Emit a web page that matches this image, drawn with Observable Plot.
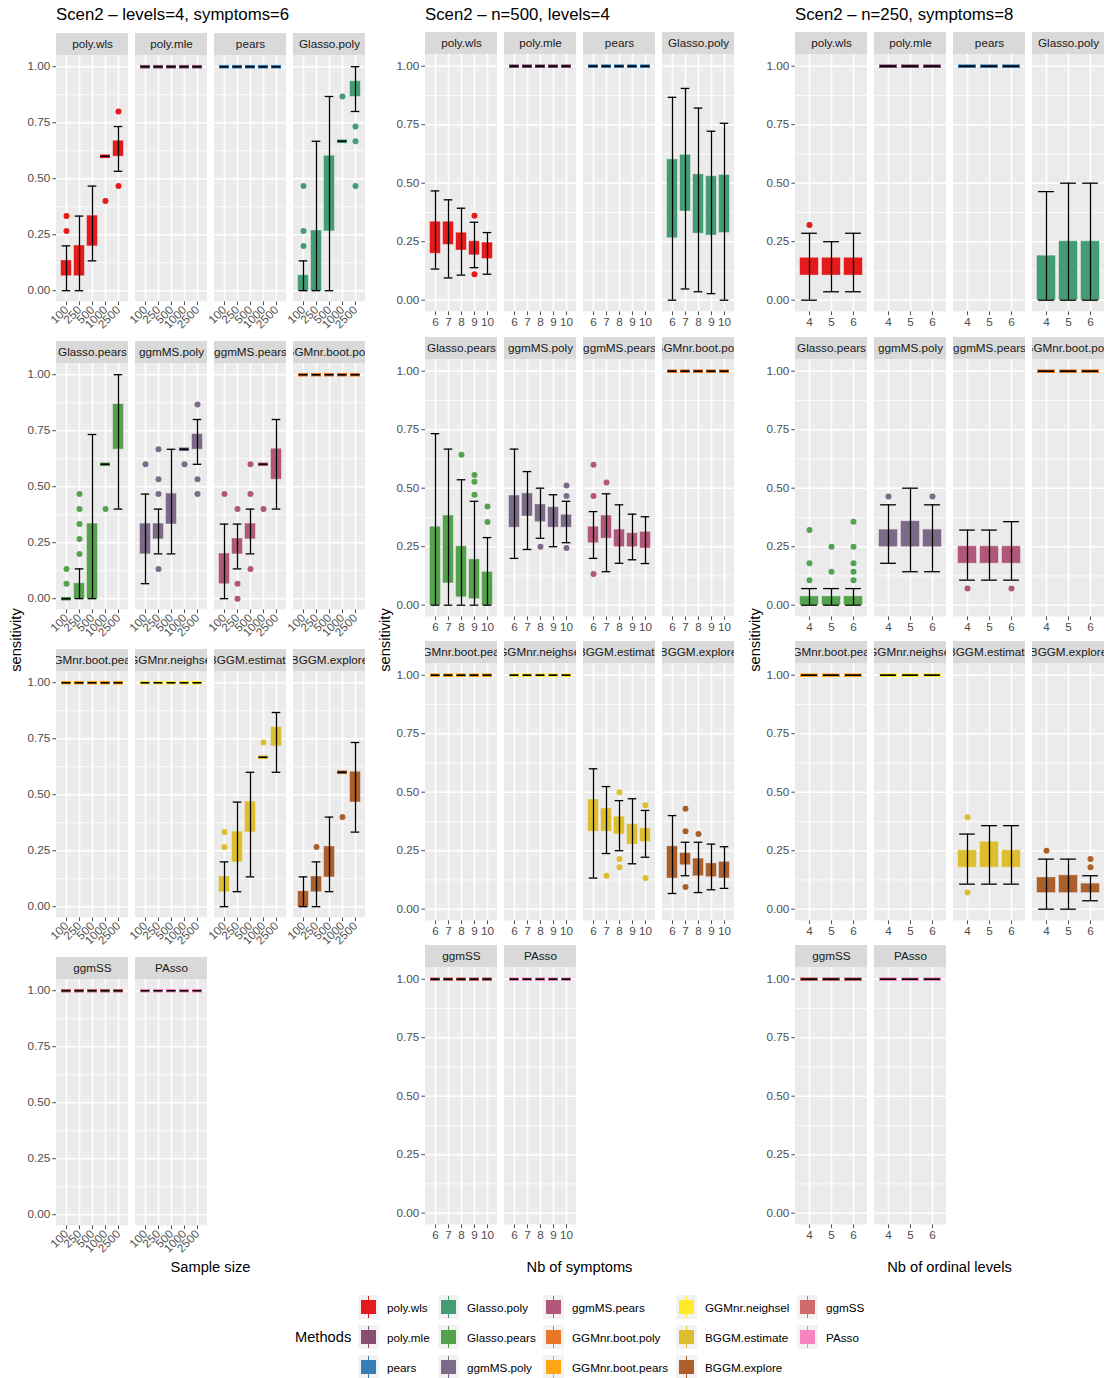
<!DOCTYPE html>
<html>
<head>
<meta charset="utf-8">
<script src="https://cdn.jsdelivr.net/npm/d3@7"></script>
<script src="https://cdn.jsdelivr.net/npm/@observablehq/plot@0.6"></script>
<style>
  html, body { margin: 0; padding: 0; background: #fff; }
  #root { position: relative; width: 1107px; height: 1378px; overflow: hidden;
          font-family: "Liberation Sans", Arial, Helvetica, sans-serif; color: #000; }
  .abs { position: absolute; white-space: nowrap; }
</style>
</head>
<body>
<div id="root"></div>
<script>
// ---------------- DATA ----------------
const methods = ["poly.wls","poly.mle","pears","Glasso.poly","Glasso.pears","ggmMS.poly","ggmMS.pears",
  "GGMnr.boot.poly","GGMnr.boot.pears","GGMnr.neighsel","BGGM.estimate","BGGM.explore","ggmSS","PAsso"];
const methodColors = ["#E41A1C","#874E72","#377EB8","#439C74","#55A24D","#7D6A89","#B0577A",
  "#E8772A","#FFA514","#FFEB29","#DDBE2F","#AB5F2A","#CE6A6B","#F784BF"];

const sampleSizes = ["100","250","500","1000","2500"];
const nbSymptoms = ["6","7","8","9","10"];
const nbLevels = ["4","5","6"];
const yTicks = [0, 0.25, 0.5, 0.75, 1];

// box rows: [method, level, lowerWhisker, q1, q3, upperWhisker]
const boxesSampleSize = [
  ["poly.wls","100",0,0.067,0.133,0.2],["poly.wls","250",0,0.067,0.2,0.333],["poly.wls","500",0.133,0.2,0.333,0.467],
  ["poly.wls","1000",0.6,0.6,0.6,0.6],["poly.wls","2500",0.533,0.6,0.667,0.733],
  ["poly.mle","100",1,1,1,1],["poly.mle","250",1,1,1,1],["poly.mle","500",1,1,1,1],["poly.mle","1000",1,1,1,1],["poly.mle","2500",1,1,1,1],
  ["pears","100",1,1,1,1],["pears","250",1,1,1,1],["pears","500",1,1,1,1],["pears","1000",1,1,1,1],["pears","2500",1,1,1,1],
  ["Glasso.poly","100",0,0,0.067,0.133],["Glasso.poly","250",0,0,0.267,0.667],["Glasso.poly","500",0,0.267,0.6,0.867],
  ["Glasso.poly","1000",0.667,0.667,0.667,0.667],["Glasso.poly","2500",0.8,0.867,0.933,1],
  ["Glasso.pears","100",0,0,0,0],["Glasso.pears","250",0,0,0.067,0.133],["Glasso.pears","500",0,0,0.333,0.733],
  ["Glasso.pears","1000",0.6,0.6,0.6,0.6],["Glasso.pears","2500",0.4,0.667,0.867,1],
  ["ggmMS.poly","100",0.067,0.2,0.333,0.467],["ggmMS.poly","250",0.2,0.267,0.333,0.4],["ggmMS.poly","500",0.2,0.333,0.467,0.667],
  ["ggmMS.poly","1000",0.667,0.667,0.667,0.667],["ggmMS.poly","2500",0.6,0.667,0.733,0.8],
  ["ggmMS.pears","100",0,0.067,0.2,0.333],["ggmMS.pears","250",0.133,0.2,0.267,0.333],["ggmMS.pears","500",0.2,0.267,0.333,0.4],
  ["ggmMS.pears","1000",0.6,0.6,0.6,0.6],["ggmMS.pears","2500",0.4,0.533,0.667,0.8],
  ["GGMnr.boot.poly","100",1,1,1,1],["GGMnr.boot.poly","250",1,1,1,1],["GGMnr.boot.poly","500",1,1,1,1],["GGMnr.boot.poly","1000",1,1,1,1],["GGMnr.boot.poly","2500",1,1,1,1],
  ["GGMnr.boot.pears","100",1,1,1,1],["GGMnr.boot.pears","250",1,1,1,1],["GGMnr.boot.pears","500",1,1,1,1],["GGMnr.boot.pears","1000",1,1,1,1],["GGMnr.boot.pears","2500",1,1,1,1],
  ["GGMnr.neighsel","100",1,1,1,1],["GGMnr.neighsel","250",1,1,1,1],["GGMnr.neighsel","500",1,1,1,1],["GGMnr.neighsel","1000",1,1,1,1],["GGMnr.neighsel","2500",1,1,1,1],
  ["BGGM.estimate","100",0,0.067,0.133,0.2],["BGGM.estimate","250",0.067,0.2,0.333,0.467],["BGGM.estimate","500",0.133,0.333,0.467,0.6],
  ["BGGM.estimate","1000",0.667,0.667,0.667,0.667],["BGGM.estimate","2500",0.6,0.717,0.8,0.867],
  ["BGGM.explore","100",0,0,0.067,0.133],["BGGM.explore","250",0,0.067,0.133,0.2],["BGGM.explore","500",0.067,0.133,0.267,0.4],
  ["BGGM.explore","1000",0.6,0.6,0.6,0.6],["BGGM.explore","2500",0.333,0.467,0.6,0.733],
  ["ggmSS","100",1,1,1,1],["ggmSS","250",1,1,1,1],["ggmSS","500",1,1,1,1],["ggmSS","1000",1,1,1,1],["ggmSS","2500",1,1,1,1],
  ["PAsso","100",1,1,1,1],["PAsso","250",1,1,1,1],["PAsso","500",1,1,1,1],["PAsso","1000",1,1,1,1],["PAsso","2500",1,1,1,1]
];
// outlier rows: [method, level, value]
const outliersSampleSize = [
  ["poly.wls","100",0.267],["poly.wls","100",0.333],["poly.wls","1000",0.4],["poly.wls","2500",0.8],["poly.wls","2500",0.467],
  ["Glasso.poly","100",0.467],["Glasso.poly","100",0.267],["Glasso.poly","100",0.2],["Glasso.poly","1000",0.867],
  ["Glasso.poly","2500",0.733],["Glasso.poly","2500",0.667],["Glasso.poly","2500",0.467],
  ["Glasso.pears","100",0.133],["Glasso.pears","100",0.067],["Glasso.pears","250",0.2],["Glasso.pears","250",0.267],
  ["Glasso.pears","250",0.333],["Glasso.pears","250",0.4],["Glasso.pears","250",0.467],["Glasso.pears","1000",0.4],
  ["ggmMS.poly","100",0.6],["ggmMS.poly","250",0.667],["ggmMS.poly","250",0.533],["ggmMS.poly","250",0.467],["ggmMS.poly","250",0.133],
  ["ggmMS.poly","1000",0.6],["ggmMS.poly","2500",0.867],["ggmMS.poly","2500",0.533],["ggmMS.poly","2500",0.467],
  ["ggmMS.pears","100",0.467],["ggmMS.pears","250",0.4],["ggmMS.pears","250",0.067],["ggmMS.pears","250",0],
  ["ggmMS.pears","500",0.6],["ggmMS.pears","500",0.467],["ggmMS.pears","500",0.133],["ggmMS.pears","1000",0.4],
  ["BGGM.estimate","100",0.333],["BGGM.estimate","100",0.267],["BGGM.estimate","1000",0.733],
  ["BGGM.explore","250",0.267],["BGGM.explore","1000",0.4]
];

const boxesSymptoms = [
  ["poly.wls","6",0.133,0.2,0.333,0.467],["poly.wls","7",0.095,0.238,0.333,0.429],["poly.wls","8",0.107,0.214,0.286,0.393],
  ["poly.wls","9",0.139,0.194,0.25,0.333],["poly.wls","10",0.111,0.178,0.244,0.289],
  ["poly.mle","6",1,1,1,1],["poly.mle","7",1,1,1,1],["poly.mle","8",1,1,1,1],["poly.mle","9",1,1,1,1],["poly.mle","10",1,1,1,1],
  ["pears","6",1,1,1,1],["pears","7",1,1,1,1],["pears","8",1,1,1,1],["pears","9",1,1,1,1],["pears","10",1,1,1,1],
  ["Glasso.poly","6",0,0.267,0.6,0.867],["Glasso.poly","7",0.048,0.381,0.619,0.905],["Glasso.poly","8",0.036,0.286,0.536,0.821],
  ["Glasso.poly","9",0.028,0.278,0.528,0.722],["Glasso.poly","10",0,0.289,0.533,0.756],
  ["Glasso.pears","6",0,0,0.333,0.733],["Glasso.pears","7",0,0.095,0.381,0.667],["Glasso.pears","8",0,0.036,0.25,0.536],
  ["Glasso.pears","9",0,0.028,0.194,0.444],["Glasso.pears","10",0,0,0.14,0.289],
  ["ggmMS.poly","6",0.2,0.333,0.467,0.667],["ggmMS.poly","7",0.238,0.381,0.476,0.571],["ggmMS.poly","8",0.286,0.357,0.429,0.5],
  ["ggmMS.poly","9",0.25,0.333,0.417,0.472],["ggmMS.poly","10",0.267,0.333,0.384,0.444],
  ["ggmMS.pears","6",0.2,0.267,0.333,0.4],["ggmMS.pears","7",0.143,0.286,0.381,0.476],["ggmMS.pears","8",0.179,0.25,0.321,0.429],
  ["ggmMS.pears","9",0.194,0.25,0.306,0.389],["ggmMS.pears","10",0.178,0.244,0.311,0.378],
  ["GGMnr.boot.poly","6",1,1,1,1],["GGMnr.boot.poly","7",1,1,1,1],["GGMnr.boot.poly","8",1,1,1,1],["GGMnr.boot.poly","9",1,1,1,1],["GGMnr.boot.poly","10",1,1,1,1],
  ["GGMnr.boot.pears","6",1,1,1,1],["GGMnr.boot.pears","7",1,1,1,1],["GGMnr.boot.pears","8",1,1,1,1],["GGMnr.boot.pears","9",1,1,1,1],["GGMnr.boot.pears","10",1,1,1,1],
  ["GGMnr.neighsel","6",1,1,1,1],["GGMnr.neighsel","7",1,1,1,1],["GGMnr.neighsel","8",1,1,1,1],["GGMnr.neighsel","9",1,1,1,1],["GGMnr.neighsel","10",1,1,1,1],
  ["BGGM.estimate","6",0.133,0.333,0.467,0.6],["BGGM.estimate","7",0.238,0.333,0.429,0.524],["BGGM.estimate","8",0.25,0.321,0.393,0.464],
  ["BGGM.estimate","9",0.194,0.278,0.361,0.472],["BGGM.estimate","10",0.222,0.289,0.344,0.422],
  ["BGGM.explore","6",0.067,0.133,0.267,0.4],["BGGM.explore","7",0.143,0.19,0.238,0.286],["BGGM.explore","8",0.071,0.143,0.214,0.286],
  ["BGGM.explore","9",0.083,0.139,0.194,0.278],["BGGM.explore","10",0.089,0.133,0.2,0.267],
  ["ggmSS","6",1,1,1,1],["ggmSS","7",1,1,1,1],["ggmSS","8",1,1,1,1],["ggmSS","9",1,1,1,1],["ggmSS","10",1,1,1,1],
  ["PAsso","6",1,1,1,1],["PAsso","7",1,1,1,1],["PAsso","8",1,1,1,1],["PAsso","9",1,1,1,1],["PAsso","10",1,1,1,1]
];
const outliersSymptoms = [
  ["poly.wls","9",0.361],["poly.wls","9",0.111],
  ["Glasso.pears","8",0.643],["Glasso.pears","9",0.556],["Glasso.pears","9",0.528],["Glasso.pears","9",0.472],
  ["Glasso.pears","10",0.422],["Glasso.pears","10",0.356],
  ["ggmMS.poly","8",0.25],["ggmMS.poly","10",0.511],["ggmMS.poly","10",0.467],["ggmMS.poly","10",0.244],
  ["ggmMS.pears","6",0.6],["ggmMS.pears","6",0.467],["ggmMS.pears","6",0.133],["ggmMS.pears","7",0.524],
  ["BGGM.estimate","7",0.143],["BGGM.estimate","8",0.5],["BGGM.estimate","8",0.214],["BGGM.estimate","8",0.179],
  ["BGGM.estimate","10",0.444],["BGGM.estimate","10",0.133],
  ["BGGM.explore","7",0.429],["BGGM.explore","7",0.333],["BGGM.explore","7",0.095],["BGGM.explore","8",0.321]
];

const boxesLevels = [
  ["poly.wls","4",0,0.107,0.179,0.286],["poly.wls","5",0.036,0.107,0.179,0.25],["poly.wls","6",0.036,0.107,0.179,0.286],
  ["poly.mle","4",1,1,1,1],["poly.mle","5",1,1,1,1],["poly.mle","6",1,1,1,1],
  ["pears","4",1,1,1,1],["pears","5",1,1,1,1],["pears","6",1,1,1,1],
  ["Glasso.poly","4",0,0,0.188,0.464],["Glasso.poly","5",0,0,0.25,0.5],["Glasso.poly","6",0,0,0.25,0.5],
  ["Glasso.pears","4",0,0,0.036,0.071],["Glasso.pears","5",0,0,0.036,0.071],["Glasso.pears","6",0,0,0.036,0.071],
  ["ggmMS.poly","4",0.179,0.25,0.321,0.429],["ggmMS.poly","5",0.143,0.25,0.357,0.5],["ggmMS.poly","6",0.143,0.25,0.321,0.429],
  ["ggmMS.pears","4",0.107,0.179,0.25,0.321],["ggmMS.pears","5",0.107,0.179,0.25,0.321],["ggmMS.pears","6",0.107,0.179,0.25,0.357],
  ["GGMnr.boot.poly","4",1,1,1,1],["GGMnr.boot.poly","5",1,1,1,1],["GGMnr.boot.poly","6",1,1,1,1],
  ["GGMnr.boot.pears","4",1,1,1,1],["GGMnr.boot.pears","5",1,1,1,1],["GGMnr.boot.pears","6",1,1,1,1],
  ["GGMnr.neighsel","4",1,1,1,1],["GGMnr.neighsel","5",1,1,1,1],["GGMnr.neighsel","6",1,1,1,1],
  ["BGGM.estimate","4",0.107,0.179,0.25,0.321],["BGGM.estimate","5",0.107,0.179,0.286,0.357],["BGGM.estimate","6",0.107,0.179,0.25,0.357],
  ["BGGM.explore","4",0,0.071,0.134,0.214],["BGGM.explore","5",0,0.071,0.143,0.214],["BGGM.explore","6",0.036,0.071,0.107,0.143],
  ["ggmSS","4",1,1,1,1],["ggmSS","5",1,1,1,1],["ggmSS","6",1,1,1,1],
  ["PAsso","4",1,1,1,1],["PAsso","5",1,1,1,1],["PAsso","6",1,1,1,1]
];
const outliersLevels = [
  ["poly.wls","4",0.321],
  ["Glasso.pears","4",0.321],["Glasso.pears","4",0.179],["Glasso.pears","4",0.107],["Glasso.pears","5",0.25],["Glasso.pears","5",0.143],
  ["Glasso.pears","6",0.357],["Glasso.pears","6",0.25],["Glasso.pears","6",0.179],["Glasso.pears","6",0.143],["Glasso.pears","6",0.107],
  ["ggmMS.poly","4",0.464],["ggmMS.poly","6",0.464],
  ["ggmMS.pears","4",0.071],["ggmMS.pears","6",0.071],
  ["BGGM.estimate","4",0.393],["BGGM.estimate","4",0.071],
  ["BGGM.explore","4",0.25],["BGGM.explore","6",0.214],["BGGM.explore","6",0.179]
];

// ---------------- LAYOUT ----------------
const FONT = '"Liberation Sans", Arial, Helvetica, sans-serif';
const FW = 72, STEPX = 79, STRIP = 22, MB = 44, YAXW = 40;
const panels = [
  {title: "Scen2 – levels=4, symptoms=6", xTitle: "Sample size", levels: sampleSizes,
   boxes: boxesSampleSize, outliers: outliersSampleSize, x0: 56, unit: 224, yTop: 66, pitch: 308, rotate: true},
  {title: "Scen2 – n=500, levels=4", xTitle: "Nb of symptoms", levels: nbSymptoms,
   boxes: boxesSymptoms, outliers: outliersSymptoms, x0: 425, unit: 234, yTop: 66, pitch: 304.33, rotate: false},
  {title: "Scen2 – n=250, symptoms=8", xTitle: "Nb of ordinal levels", levels: nbLevels,
   boxes: boxesLevels, outliers: outliersLevels, x0: 795, unit: 234, yTop: 66, pitch: 304.33, rotate: false}
];
const colorOf = Object.fromEntries(methods.map((m, i) => [m, methodColors[i]]));
const root = document.getElementById("root");

function addText(txt, css) {
  const d = document.createElement("div");
  d.className = "abs";
  d.textContent = txt;
  Object.assign(d.style, css);
  root.appendChild(d);
  return d;
}

function facet(panel, method, row, col) {
  const color = colorOf[method];
  const rows = panel.boxes.filter(d => d[0] === method)
    .map(d => ({x: d[1], lo: d[2], q1: d[3], q3: d[4], hi: d[5]}));
  const outs = panel.outliers.filter(d => d[0] === method).map(d => ({x: d[1], v: d[2]}));
  const n = panel.levels.length;
  const step = FW / (n + 0.2);
  const capInset = 0.05 * step;
  const ml = col === 0 ? YAXW : 0;
  const top = 1.05 + STRIP / panel.unit;
  const H = STRIP + 1.1 * panel.unit + MB;
  const marks = [
    Plot.barY([0], {y1: -0.05, y2: 1.05, fill: "#EBEBEB"}),
    Plot.ruleY([0.125, 0.375, 0.625, 0.875], {stroke: "white", strokeWidth: 0.8}),
    Plot.ruleY(yTicks, {stroke: "white", strokeWidth: 1.6}),
    Plot.ruleX(panel.levels, {x: d => d, y1: -0.05, y2: 1.05, stroke: "white", strokeWidth: 1.6}),
    Plot.barY([0], {y1: 1.05, y2: top, fill: "#D9D9D9"}),
    Plot.text([method], {y: (1.05 + top) / 2, text: d => d, clip: true, fill: "#1A1A1A", fontSize: 11.7}),
    Plot.barY(rows.filter(d => d.q3 > d.q1), {x: "x", y1: "q1", y2: "q3", fill: color, stroke: color, strokeWidth: 0.8, strokeOpacity: 0.6}),
    Plot.tickY(rows.filter(d => d.q3 === d.q1), {x: "x", y: "q1", stroke: color, strokeWidth: 3.6}),
    Plot.ruleX(rows, {x: "x", y1: "lo", y2: "hi", stroke: "black", strokeWidth: 1.3}),
    Plot.tickY(rows, {x: "x", y: "lo", stroke: "black", strokeWidth: 1.3, insetLeft: capInset, insetRight: capInset}),
    Plot.tickY(rows, {x: "x", y: "hi", stroke: "black", strokeWidth: 1.3, insetLeft: capInset, insetRight: capInset}),
    Plot.dot(outs, {x: "x", y: "v", fill: color, r: 3}),
    Plot.axisX({tickRotate: panel.rotate ? -45 : 0, fontSize: 11.7, tickSize: 3.7, tickPadding: 2.5, label: null})
  ];
  if (col === 0) {
    marks.push(Plot.axisY({ticks: yTicks, tickFormat: ".2f", fontSize: 11.7, tickSize: 3.7, tickPadding: 2.5, label: null}));
  }
  const svg = Plot.plot({
    width: FW + ml, height: H,
    marginLeft: ml, marginRight: 0, marginTop: 0, marginBottom: MB,
    x: {type: "band", domain: panel.levels, padding: 0.2},
    y: {type: "linear", domain: [-0.05, top], axis: col === 0 ? undefined : null},
    style: {color: "#4D4D4D", fontFamily: FONT, fontSize: "11.7px", background: "transparent", overflow: "visible"},
    marks
  });
  svg.style.position = "absolute";
  svg.style.left = (panel.x0 + col * STEPX - ml) + "px";
  svg.style.top = (panel.yTop + row * panel.pitch - 0.05 * panel.unit - STRIP) + "px";
  root.appendChild(svg);
}

panels.forEach((p, pi) => {
  methods.forEach((m, i) => facet(p, m, Math.floor(i / 4), i % 4));
  addText(p.title, {left: p.x0 + "px", top: "7px", fontSize: "16.8px", lineHeight: "16.8px", color: "#000"});
  const cx = p.x0 + (3 * STEPX + FW) / 2;
  addText(p.xTitle, {left: cx + "px", top: "1260px", fontSize: "14.67px", lineHeight: "14.67px", transform: "translateX(-50%)"});
  addText("sensitivity", {left: (p.x0 - 40) + "px", top: "640px", fontSize: "14.67px", lineHeight: "14.67px",
    transform: "translate(-50%,-50%) rotate(-90deg)"});
});

// ---------------- LEGEND ----------------
addText("Methods", {left: "295px", top: "1329.5px", fontSize: "14.67px", lineHeight: "14.67px"});
const legCols = [358, 438, 543, 676, 797];
const legRows = [1307, 1337, 1367];
methods.forEach((m, i) => {
  const kx = legCols[Math.floor(i / 3)], ky = legRows[i % 3];
  const key = document.createElement("div");
  key.className = "abs";
  Object.assign(key.style, {left: kx + "px", top: (ky - 12) + "px", width: "21px", height: "24px", background: "#F2F2F2"});
  const box = document.createElement("div");
  Object.assign(box.style, {position: "absolute", left: "3px", top: "5px", width: "15px", height: "14px", background: colorOf[m]});
  const w1 = document.createElement("div");
  Object.assign(w1.style, {position: "absolute", left: "10px", top: "1px", width: "1px", height: "22px", background: colorOf[m]});
  key.appendChild(w1); key.appendChild(box);
  root.appendChild(key);
  addText(m, {left: (kx + 29) + "px", top: (ky - 6.5) + "px", fontSize: "11.7px", lineHeight: "13px", color: "#000"});
});
</script>
</body>
</html>
